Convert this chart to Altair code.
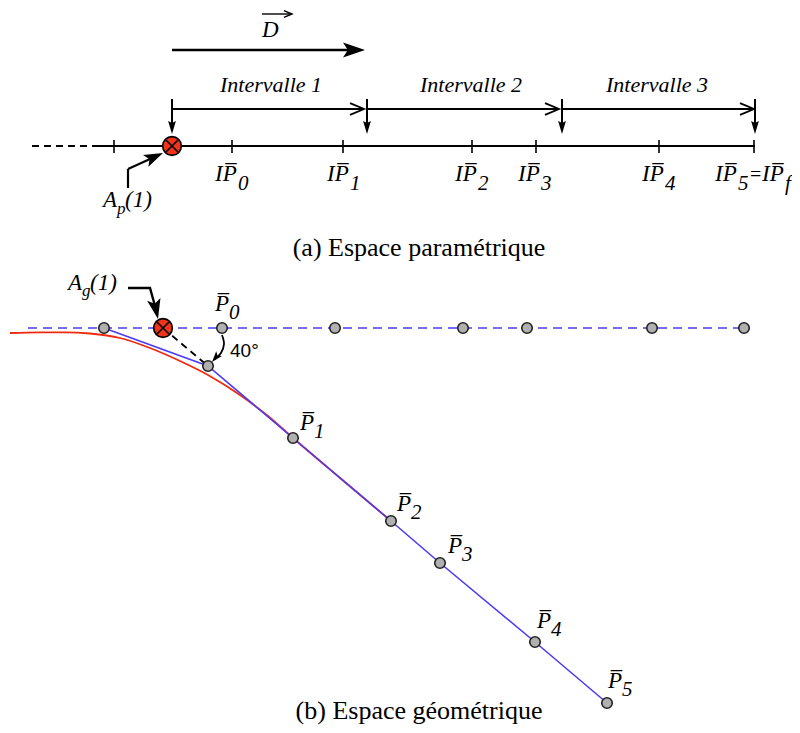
import math
import altair as alt
import pandas as pd

# ---------------- data: (a) parametric space ----------------
axis_y = 146
axis_dash_x = [32, 98]
axis_solid_x = [98, 755]
tick_x = [114, 232, 343, 472, 536, 659, 754]
ip_subs = ["0", "1", "2", "3", "4", "5"]
ip_label_x = [215, 327, 455, 518, 642, 715]
ip_label_y = 181
interval_names = ["Intervalle 1", "Intervalle 2", "Intervalle 3"]
interval_bounds = [172, 367, 562, 755]
interval_tips = [364, 559, 754]
interval_y = 109
interval_label_x = [271, 471, 657]
interval_label_y = 92
marker_a = (172, 146)
d_arrow = (172, 365, 50)

# ---------------- data: (b) geometric space ----------------
proj_x = [104, 222, 335, 463, 527, 652, 744]
proj_y = 328
poly_x = [104, 208, 293, 391, 440, 535, 607]
poly_y = [328, 366, 438, 521, 563, 642, 703]
curve_x = [10, 40, 65, 90, 120, 150, 180, 208, 240, 268, 293, 340, 391]
curve_y = [333, 332.3, 332.3, 333.5, 338, 348, 361, 375, 395, 416, 438, 478, 521]
marker_b = (163, 328)
p_subs = ["0", "1", "2", "3", "4", "5"]
p_label_x = [215, 300, 397, 448, 537, 608]
p_label_y = [311, 430, 511, 553, 628, 688]

captions = ["(a) Espace paramétrique", "(b) Espace géométrique"]
caption_x = [419, 419]
caption_y = [256, 719]

W, H = 784, 717
XS = alt.Scale(domain=[8, 8 + W], nice=False, zero=False)
YS = alt.Scale(domain=[8, 8 + H], nice=False, zero=False, reverse=True)
SERIF = "Liberation Serif"
SANS = "Liberation Sans"


def ex():
    return alt.X("x:Q", scale=XS, axis=None)


def ey():
    return alt.Y("y:Q", scale=YS, axis=None)


# ---------- segments ----------
segs = []


def seg(x, y, x2, y2, w=2.0):
    segs.append(dict(x=x, y=y, x2=x2, y2=y2, w=w))


seg(axis_solid_x[0], axis_y, axis_solid_x[1], axis_y, 2)
for t in tick_x:
    seg(t, axis_y - 6, t, axis_y + 7, 1.6)
for i in range(3):
    seg(interval_bounds[i], interval_y, interval_tips[i], interval_y, 1.8)
for b in interval_bounds:
    seg(b, 99, b, 126, 2)
seg(d_arrow[0], d_arrow[2], d_arrow[1] - 8, d_arrow[2], 2.6)
seg(262, 14, 291, 14, 1.4)
seg(128, 188, 128, 169, 2.2)
seg(128, 169, 150, 159, 2.2)
seg_df = pd.DataFrame(segs)

rules = alt.Chart(seg_df).mark_rule(color="black").encode(
    x=ex(), y=ey(), x2="x2:Q", y2="y2:Q",
    strokeWidth=alt.StrokeWidth("w:Q", scale=None),
)

dash_df = pd.DataFrame([
    dict(x=axis_dash_x[0], y=axis_y, x2=axis_dash_x[1], y2=axis_y),
    dict(x=marker_b[0], y=marker_b[1], x2=poly_x[1], y2=poly_y[1]),
])
dash_rules = alt.Chart(dash_df).mark_rule(color="black", strokeWidth=1.8, strokeDash=[7, 5]).encode(
    x=ex(), y=ey(), x2="x2:Q", y2="y2:Q")

blue_dash = alt.Chart(pd.DataFrame([dict(x=28, y=proj_y, x2=750, y2=proj_y)])).mark_rule(
    color="#4a3cf2", strokeWidth=1.6, strokeDash=[9, 6]).encode(x=ex(), y=ey(), x2="x2:Q", y2="y2:Q")

# ---------- lines ----------
red_df = pd.DataFrame(dict(x=curve_x, y=curve_y, i=range(len(curve_x))))
red_line = alt.Chart(red_df).mark_line(color="#ee2a10", strokeWidth=1.8, interpolate="monotone").encode(
    x=ex(), y=ey(), order="i:Q")

blue_df = pd.DataFrame(dict(x=poly_x, y=poly_y, i=range(len(poly_x))))
blue_line = alt.Chart(blue_df).mark_line(color="#4a3cf2", strokeWidth=1.6).encode(
    x=ex(), y=ey(), order="i:Q")

arc_df = pd.DataFrame(dict(x=[222, 224, 221, 215], y=[335, 344, 353, 359], i=range(4)))
arc_line = alt.Chart(arc_df).mark_line(color="black", strokeWidth=1.8, interpolate="cardinal").encode(
    x=ex(), y=ey(), order="i:Q")

ag_df = pd.DataFrame(dict(x=[128, 150, 155], y=[288, 288, 306], i=range(3)))
ag_line = alt.Chart(ag_df).mark_line(color="black", strokeWidth=2.4).encode(
    x=ex(), y=ey(), order="i:Q")

# ---------- points ----------
gray_df = pd.DataFrame(dict(x=proj_x + poly_x[1:], y=[proj_y] * len(proj_x) + poly_y[1:]))
gray_pts = alt.Chart(gray_df).mark_point(shape="circle", filled=True, fill="#b0b0b0", stroke="#222222",
                                          strokeWidth=1.6, size=110, opacity=1).encode(x=ex(), y=ey())

mk_df = pd.DataFrame(dict(x=[marker_a[0], marker_b[0]], y=[marker_a[1], marker_b[1]]))
red_pts = alt.Chart(mk_df).mark_point(shape="circle", filled=True, fill="#f0331a", stroke="black",
                                       strokeWidth=1.6, size=350, opacity=1).encode(x=ex(), y=ey())
cross_pts = alt.Chart(mk_df).mark_point(shape="M-0.62,-0.62L0.62,0.62M-0.62,0.62L0.62,-0.62", filled=False,
                                         color="black", strokeWidth=1.6, size=350, opacity=1).encode(x=ex(), y=ey())

HEAD = "M0,0L-1,-0.34L-0.78,0L-1,0.34Z"
NARROW = "M0,0L-1,-0.3L-0.85,0L-1,0.3Z"
CHEV = "M-1,-0.42L0,0L-1,0.42"

heads = []


def head(x, y, ang, length, shape):
    heads.append(dict(x=x, y=y, a=ang % 360, s=4 * length * length, shape=shape))


head(d_arrow[1], d_arrow[2], 0, 22, HEAD)
for b in interval_bounds:
    head(b, 134, 90, 13, NARROW)
head(163, 153, math.degrees(math.atan2(-16, 35)), 19, HEAD)
head(158, 319, math.degrees(math.atan2(14, 3)), 20, HEAD)
head(212, 362, 130, 11, HEAD)
head_df = pd.DataFrame(heads)
head_pts = alt.Chart(head_df).mark_point(filled=True, color="black", opacity=1, strokeWidth=0).encode(
    x=ex(), y=ey(),
    shape=alt.Shape("shape:N", scale=None),
    size=alt.Size("s:Q", scale=None),
    angle=alt.Angle("a:Q", scale=None),
)

chev = []
for t in interval_tips:
    chev.append(dict(x=t, y=interval_y, s=4 * 14 * 14, w=1.8))
chev.append(dict(x=292, y=14, s=4 * 8 * 8, w=1.4))
chev_df = pd.DataFrame(chev)
chev_pts = alt.Chart(chev_df).mark_point(shape=CHEV, filled=False, color="black", opacity=1).encode(
    x=ex(), y=ey(), size=alt.Size("s:Q", scale=None),
    strokeWidth=alt.StrokeWidth("w:Q", scale=None))

# ---------- text ----------
main_t, sub_t = [], []
for i, s in enumerate(ip_subs):
    main_t.append(dict(x=ip_label_x[i], y=ip_label_y, t="IP\u0305"))
    sub_t.append(dict(x=ip_label_x[i] + 23, y=ip_label_y + 9, t=s))
main_t.append(dict(x=762, y=ip_label_y, t="IP\u0305"))
sub_t.append(dict(x=785, y=ip_label_y + 9, t="f"))
for i, s in enumerate(p_subs):
    main_t.append(dict(x=p_label_x[i], y=p_label_y[i], t="P\u0305"))
    sub_t.append(dict(x=p_label_x[i] + 14, y=p_label_y[i] + 8, t=s))
main_t.append(dict(x=262, y=37, t="D"))
main_t.append(dict(x=103, y=207, t="A"))
main_t.append(dict(x=125, y=207, t="(1)"))
main_t.append(dict(x=68, y=290, t="A"))
main_t.append(dict(x=90, y=290, t="(1)"))
small_t = [dict(x=117, y=214, t="p"), dict(x=82, y=296, t="g")]

main_text = alt.Chart(pd.DataFrame(main_t)).mark_text(
    font=SERIF, fontStyle="italic", fontSize=23, align="left", baseline="alphabetic", color="black").encode(
    x=ex(), y=ey(), text="t:N")
eq_text = alt.Chart(pd.DataFrame([dict(x=750, y=ip_label_y, t="=")])).mark_text(
    font=SERIF, fontSize=20, align="left", baseline="alphabetic", color="black").encode(
    x=ex(), y=ey(), text="t:N")
sub_text = alt.Chart(pd.DataFrame(sub_t)).mark_text(
    font=SERIF, fontStyle="italic", fontSize=21, align="left", baseline="alphabetic", color="black").encode(
    x=ex(), y=ey(), text="t:N")
small_text = alt.Chart(pd.DataFrame(small_t)).mark_text(
    font=SERIF, fontStyle="italic", fontSize=17, align="left", baseline="alphabetic", color="black").encode(
    x=ex(), y=ey(), text="t:N")

int_df = pd.DataFrame(dict(x=interval_label_x, y=[interval_label_y] * 3, t=interval_names))
int_text = alt.Chart(int_df).mark_text(
    font=SERIF, fontStyle="italic", fontSize=22, align="center", baseline="alphabetic", color="black").encode(
    x=ex(), y=ey(), text="t:N")

cap_df = pd.DataFrame(dict(x=caption_x, y=caption_y, t=captions))
cap_text = alt.Chart(cap_df).mark_text(
    font=SERIF, fontSize=26, align="center", baseline="alphabetic", color="black").encode(
    x=ex(), y=ey(), text="t:N")

deg_text = alt.Chart(pd.DataFrame([dict(x=230, y=357, t="40°")])).mark_text(
    font=SANS, fontSize=19, align="left", baseline="alphabetic", color="black").encode(
    x=ex(), y=ey(), text="t:N")

chart = alt.layer(
    red_line, blue_dash, blue_line, dash_rules, rules, arc_line, ag_line,
    gray_pts, red_pts, cross_pts, head_pts, chev_pts,
    main_text, eq_text, sub_text, small_text, int_text, cap_text, deg_text,
).properties(
    width=W, height=H, padding=0, autosize=alt.AutoSizeParams(type="none"),
    background="white",
).configure_view(stroke=None)

chart.save("out.html", embed_options={"renderer": "svg", "actions": False})
